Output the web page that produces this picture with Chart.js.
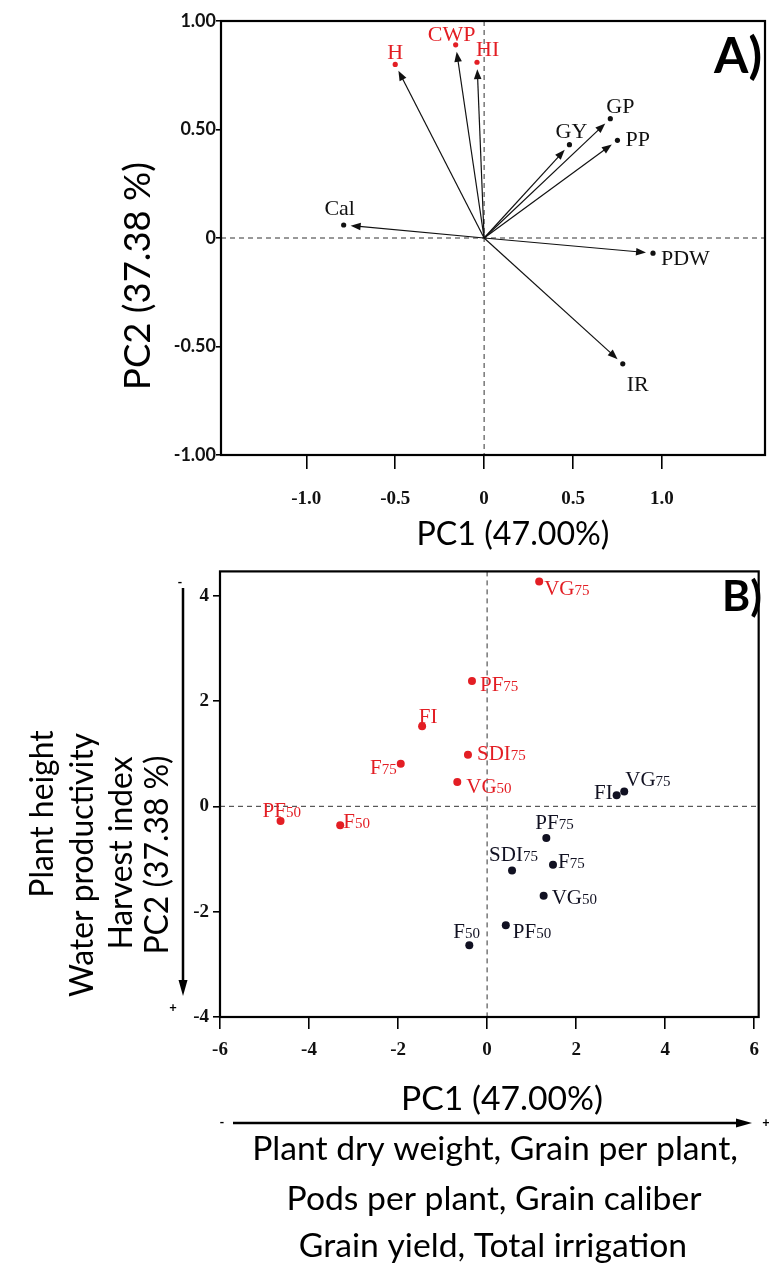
<!DOCTYPE html>
<html>
<head>
<meta charset="utf-8">
<script src="https://cdn.jsdelivr.net/npm/chart.js@4.4.1/dist/chart.umd.min.js"></script>
<style>
  body { margin: 0; background: #fff; }
  #wrapA { position: absolute; left: 0; top: 0; width: 769px; height: 556px; }
  #wrapB { position: absolute; left: 0; top: 556px; width: 769px; height: 714px; }
</style>
</head>
<body>
<div id="wrapA"><canvas id="chartA" width="769" height="556"></canvas></div>
<div id="wrapB"><canvas id="chartB" width="769" height="714"></canvas></div>
<script>
// ---- Panel A: variable loadings (PC1, PC2) ----
const redVarNames = ['H', 'CWP', 'HI'];
const redVarPC1 = [-0.50, -0.16, -0.04];
const redVarPC2 = [0.80, 0.89, 0.81];
const blackVarNames = ['GY', 'GP', 'PP', 'Cal', 'PDW', 'IR'];
const blackVarPC1 = [0.48, 0.71, 0.75, -0.79, 0.95, 0.78];
const blackVarPC2 = [0.43, 0.55, 0.45, 0.06, -0.07, -0.58];
const ticksAx = [-1, -0.5, 0, 0.5, 1];
const ticksAy = [-1, -0.5, 0, 0.5, 1];

// ---- Panel B: treatment scores ----
const redObsNames = ['VG75', 'PF75', 'FI', 'SDI75', 'F75', 'VG50', 'PF50', 'F50'];
const redObsPC1 = [1.17, -0.34, -1.46, -0.43, -1.94, -0.67, -4.64, -3.30];
const redObsPC2 = [4.27, 2.38, 1.52, 0.98, 0.81, 0.46, -0.28, -0.36];
const blackObsNames = ['FI', 'VG75', 'PF75', 'SDI75', 'F75', 'VG50', 'PF50', 'F50'];
const blackObsPC1 = [2.91, 3.08, 1.33, 0.56, 1.48, 1.27, 0.42, -0.40];
const blackObsPC2 = [0.21, 0.28, -0.60, -1.22, -1.11, -1.70, -2.26, -2.64];
const ticksBx = [-6, -4, -2, 0, 2, 4, 6];
const ticksBy = [-4, -2, 0, 2, 4];

// label placement (pixel offsets from the point: dx, baseline dy, align)
const redVarPos = [[0, -5, 'center'], [-4, -4, 'center'], [-1, -6, 'left']];
const blackVarPos = [[2, -7, 'center'], [-4, -6, 'left'], [8, 6, 'left'], [-4, -10, 'center'], [8, 12, 'left'], [15, 27, 'center']];
const redObsPos = [[5, 14, 'left'], [8, 10, 'left'], [6, -3, 'center'], [9, 5, 'left'], [-4, 10, 'right'], [9, 11, 'left'], [-18, -4, 'left'], [3, 3, 'left']];
const blackObsPos = [[-4, 4, 'right'], [1, -6, 'left'], [-11, -9, 'left'], [-23, -10, 'left'], [5, 3, 'left'], [8, 8, 'left'], [7, 13, 'left'], [-16, -7, 'left']];

const RED = '#e31e24';
const DARK = '#111122';
const SANS = 'Lato, "Open Sans", sans-serif';
const SERIF = '"Liberation Serif", "DejaVu Serif", serif';

function pts(xs, ys) {
    return xs.map((x, i) => ({ x: x, y: ys[i] }));
}

function fitSize(ctx, text, weight, width) {
    ctx.font = weight + ' 100px ' + SANS;
    return 100 * width / ctx.measureText(text).width;
}

function drawText(ctx, text, x, y, size, weight, rotate) {
    ctx.save();
    ctx.translate(x, y);
    if (rotate) ctx.rotate(-Math.PI / 2);
    ctx.font = weight + ' ' + size + 'px ' + SANS;
    ctx.fillStyle = '#000';
    ctx.textAlign = 'center';
    ctx.textBaseline = 'middle';
    ctx.fillText(text, 0, 0);
    ctx.restore();
}

function arrowHead(ctx, x, y, ux, uy, len, half) {
    ctx.beginPath();
    ctx.moveTo(x, y);
    ctx.lineTo(x - ux * len - uy * half, y - uy * len + ux * half);
    ctx.lineTo(x - ux * len + uy * half, y - uy * len - ux * half);
    ctx.closePath();
    ctx.fill();
}

// dashed zero lines + frame
const frameAndZero = {
    id: 'frameAndZero',
    beforeDatasetsDraw(chart) {
        const { ctx, chartArea: a, scales } = chart;
        const x0 = scales.x.getPixelForValue(0);
        const y0 = scales.y.getPixelForValue(0);
        ctx.save();
        ctx.strokeStyle = '#333';
        ctx.lineWidth = 1;
        ctx.setLineDash([5, 4]);
        ctx.beginPath();
        ctx.moveTo(x0, a.top); ctx.lineTo(x0, a.bottom);
        ctx.moveTo(a.left, y0); ctx.lineTo(a.right, y0);
        ctx.stroke();
        ctx.setLineDash([]);
        ctx.lineWidth = 2.2;
        ctx.strokeStyle = '#000';
        ctx.strokeRect(a.left, a.top, a.right - a.left, a.bottom - a.top);
        ctx.restore();
    }
};

// loading arrows from the origin, labels for panel A
const loadings = {
    id: 'loadings',
    beforeDatasetsDraw(chart) {
        const { ctx, scales } = chart;
        const ox = scales.x.getPixelForValue(0);
        const oy = scales.y.getPixelForValue(0);
        const xs = redVarPC1.concat(blackVarPC1);
        const ys = redVarPC2.concat(blackVarPC2);
        ctx.save();
        ctx.strokeStyle = '#111';
        ctx.fillStyle = '#111';
        ctx.lineWidth = 1.2;
        xs.forEach((v, i) => {
            const px = scales.x.getPixelForValue(v);
            const py = scales.y.getPixelForValue(ys[i]);
            const dx = px - ox, dy = py - oy;
            const d = Math.hypot(dx, dy);
            const ux = dx / d, uy = dy / d;
            const tx = px - ux * 7, ty = py - uy * 7;
            ctx.beginPath();
            ctx.moveTo(ox, oy);
            ctx.lineTo(tx - ux * 6, ty - uy * 6);
            ctx.stroke();
            arrowHead(ctx, tx, ty, ux, uy, 10, 3.8);
        });
        ctx.restore();
    },
    afterDatasetsDraw(chart) {
        const { ctx, scales } = chart;
        ctx.save();
        ctx.font = '22px ' + SERIF;
        ctx.textBaseline = 'alphabetic';
        const put = (names, xs, ys, pos, color) => {
            names.forEach((n, i) => {
                const px = scales.x.getPixelForValue(xs[i]);
                const py = scales.y.getPixelForValue(ys[i]);
                ctx.fillStyle = color;
                ctx.textAlign = pos[i][2];
                ctx.fillText(n, px + pos[i][0], py + pos[i][1]);
            });
        };
        put(redVarNames, redVarPC1, redVarPC2, redVarPos, RED);
        put(blackVarNames, blackVarPC1, blackVarPC2, blackVarPos, '#111');
        ctx.restore();
    }
};

// labels with small subscript digits for panel B
const scoreLabels = {
    id: 'scoreLabels',
    afterDatasetsDraw(chart) {
        const { ctx, scales } = chart;
        ctx.save();
        ctx.textAlign = 'left';
        ctx.textBaseline = 'alphabetic';
        const put = (names, xs, ys, pos, color) => {
            names.forEach((n, i) => {
                const m = n.match(/^(\D+)(\d*)$/);
                const main = m[1], sub = m[2];
                ctx.font = '21px ' + SERIF;
                const w1 = ctx.measureText(main).width;
                ctx.font = '15px ' + SERIF;
                const w2 = sub ? ctx.measureText(sub).width : 0;
                let x = scales.x.getPixelForValue(xs[i]) + pos[i][0];
                const y = scales.y.getPixelForValue(ys[i]) + pos[i][1];
                if (pos[i][2] === 'right') x -= w1 + w2;
                if (pos[i][2] === 'center') x -= (w1 + w2) / 2;
                ctx.fillStyle = color;
                ctx.font = '21px ' + SERIF;
                ctx.fillText(main, x, y);
                if (sub) {
                    ctx.font = '15px ' + SERIF;
                    ctx.fillText(sub, x + w1, y);
                }
            });
        };
        put(redObsNames, redObsPC1, redObsPC2, redObsPos, RED);
        put(blackObsNames, blackObsPC1, blackObsPC2, blackObsPos, DARK);
        ctx.restore();
    }
};

// axis titles and panel letters
const panelTextA = {
    id: 'panelTextA',
    afterDraw(chart) {
        const ctx = chart.ctx;
        drawText(ctx, 'PC2 (37.38 %)', 138, 276, fitSize(ctx, 'PC2 (37.38 %)', 'normal', 228), 'normal', true);
        drawText(ctx, 'PC1 (47.00%)', 513, 535, fitSize(ctx, 'PC1 (47.00%)', 'normal', 193), 'normal', false);
        drawText(ctx, 'A)', 738, 57, fitSize(ctx, 'A)', 'bold', 48), 'bold', false);
    }
};

const panelTextB = {
    id: 'panelTextB',
    afterDraw(chart) {
        const ctx = chart.ctx;
        const off = 556;
        const fs = fitSize(ctx, 'Water productivity', 'normal', 264);
        drawText(ctx, 'Plant height', 43, 814 - off, fs, 'normal', true);
        drawText(ctx, 'Water productivity', 83, 865 - off, fs, 'normal', true);
        drawText(ctx, 'Harvest index', 122, 853 - off, fs, 'normal', true);
        drawText(ctx, 'PC2 (37.38 %)', 158, 855 - off, fs, 'normal', true);

        const fb = fitSize(ctx, 'Plant dry weight, Grain per plant,', 'normal', 486);
        drawText(ctx, 'PC1 (47.00%)', 502, 1099 - off, fb, 'normal', false);
        drawText(ctx, 'Plant dry weight, Grain per plant,', 495, 1149 - off, fb, 'normal', false);
        drawText(ctx, 'Pods per plant, Grain caliber', 494, 1199 - off, fb, 'normal', false);
        drawText(ctx, 'Grain yield, Total irrigation', 493, 1246 - off, fb, 'normal', false);
        drawText(ctx, 'B)', 742, 597 - off, fitSize(ctx, 'B)', 'bold', 40), 'bold', false);

        ctx.save();
        ctx.strokeStyle = '#000';
        ctx.fillStyle = '#000';
        ctx.lineWidth = 2.5;
        // vertical PC2 arrow
        ctx.beginPath();
        ctx.moveTo(183, 588 - off); ctx.lineTo(183, 982 - off);
        ctx.stroke();
        arrowHead(ctx, 183, 996 - off, 0, 1, 16, 4.5);
        // horizontal PC1 arrow
        ctx.beginPath();
        ctx.moveTo(233, 1123 - off); ctx.lineTo(737, 1123 - off);
        ctx.stroke();
        arrowHead(ctx, 752, 1123 - off, 1, 0, 16, 4.5);
        ctx.font = 'bold 13px ' + SANS;
        ctx.textAlign = 'center';
        ctx.textBaseline = 'middle';
        ctx.fillText('-', 180, 583 - off);
        ctx.fillText('+', 173, 1008 - off);
        ctx.fillText('-', 222, 1123 - off);
        ctx.fillText('+', 766, 1123 - off);
        ctx.restore();
    }
};

function fixedTicks(values) {
    return function (scale) {
        scale.ticks = values.map(v => ({ value: v }));
    };
}

new Chart(document.getElementById('chartA'), {
    type: 'scatter',
    data: {
        datasets: [
            { data: pts(redVarPC1, redVarPC2), backgroundColor: RED, borderColor: RED, pointRadius: 2.6, borderWidth: 0 },
            { data: pts(blackVarPC1, blackVarPC2), backgroundColor: '#111', borderColor: '#111', pointRadius: 2.6, borderWidth: 0 }
        ]
    },
    options: {
        responsive: false,
        animation: false,
        layout: { padding: { left: 0, top: 21, right: 4, bottom: 0 } },
        plugins: { legend: { display: false }, tooltip: { enabled: false } },
        scales: {
            x: {
                type: 'linear', min: -1.48, max: 1.58,
                afterBuildTicks: fixedTicks(ticksAx),
                afterFit: s => { s.height = 101; },
                border: { display: false },
                grid: { drawOnChartArea: false, tickLength: 14, color: '#000', lineWidth: 1.6 },
                ticks: {
                    padding: 19, color: '#111', font: { family: SERIF, size: 19, weight: 'bold' },
                    callback: v => v === 0 ? '0' : v.toFixed(1)
                }
            },
            y: {
                type: 'linear', min: -1, max: 1,
                afterBuildTicks: fixedTicks(ticksAy),
                afterFit: s => { s.width = 221; },
                border: { display: false },
                grid: { drawOnChartArea: false, tickLength: 5, color: '#000', lineWidth: 1.6 },
                ticks: {
                    padding: 0, color: '#111', font: { family: SANS, size: 18, weight: 'bold' },
                    callback: v => v === 0 ? '0' : v.toFixed(2)
                }
            }
        }
    },
    plugins: [frameAndZero, loadings, panelTextA]
});

new Chart(document.getElementById('chartB'), {
    type: 'scatter',
    data: {
        datasets: [
            { data: pts(redObsPC1, redObsPC2), backgroundColor: RED, borderColor: RED, pointRadius: 4, borderWidth: 0 },
            { data: pts(blackObsPC1, blackObsPC2), backgroundColor: DARK, borderColor: DARK, pointRadius: 4, borderWidth: 0 }
        ]
    },
    options: {
        responsive: false,
        animation: false,
        layout: { padding: { left: 0, top: 2, right: 4, bottom: 0 } },
        plugins: { legend: { display: false }, tooltip: { enabled: false } },
        scales: {
            x: {
                type: 'linear', min: -6, max: 6.1,
                afterBuildTicks: fixedTicks(ticksBx),
                afterFit: s => { s.height = 253; },
                border: { display: false },
                grid: { drawOnChartArea: false, tickLength: 12, color: '#000', lineWidth: 1.6 },
                ticks: { padding: 10, color: '#111', font: { family: SERIF, size: 19, weight: 'bold' } }
            },
            y: {
                type: 'linear', min: -4, max: 4.46,
                afterBuildTicks: fixedTicks(ticksBy),
                afterFit: s => { s.width = 220; },
                border: { display: false },
                grid: { drawOnChartArea: false, tickLength: 7, color: '#000', lineWidth: 1.6 },
                ticks: { padding: 4, color: '#111', font: { family: SERIF, size: 19, weight: 'bold' } }
            }
        }
    },
    plugins: [frameAndZero, scoreLabels, panelTextB]
});
</script>
</body>
</html>
